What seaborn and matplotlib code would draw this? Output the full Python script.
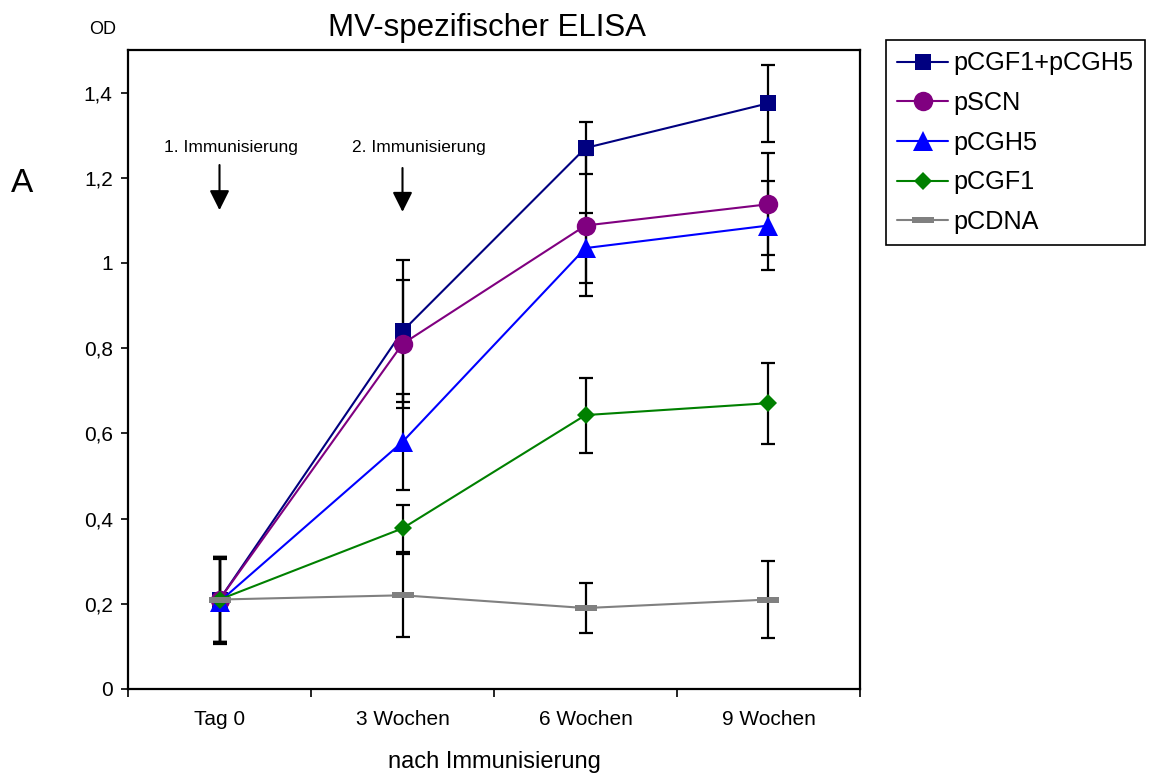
import numpy as np
import matplotlib
matplotlib.use("Agg")
import matplotlib.pyplot as plt
import seaborn as sns

# Sampling times and groups
timepoints = ["Tag 0", "3 Wochen", "6 Wochen", "9 Wochen"]
series_names = ["pCGF1+pCGH5", "pSCN", "pCGH5", "pCGF1", "pCDNA"]

# Mean OD values and standard deviations per group
od_pcgf1_pcgh5 = [0.21, 0.84, 1.27, 1.375]
sd_pcgf1_pcgh5 = [0.10, 0.167, 0.06, 0.09]
od_pscn = [0.21, 0.81, 1.088, 1.138]
sd_pscn = [0.10, 0.15, 0.165, 0.12]
od_pcgh5 = [0.205, 0.58, 1.035, 1.088]
sd_pcgh5 = [0.10, 0.113, 0.083, 0.104]
od_pcgf1 = [0.21, 0.377, 0.643, 0.671]
sd_pcgf1 = [0.10, 0.055, 0.088, 0.095]
od_pcdna = [0.21, 0.22, 0.19, 0.21]
sd_pcdna = [0.10, 0.097, 0.059, 0.09]

y_ticks = [0, 0.2, 0.4, 0.6, 0.8, 1, 1.2, 1.4]
y_ticklabels = ["0", "0,2", "0,4", "0,6", "0,8", "1", "1,2", "1,4"]

sns.set_style("white")
plt.rcParams["font.family"] = ["Liberation Sans", "DejaVu Sans"]
plt.rcParams["text.color"] = "black"
plt.rcParams["axes.labelcolor"] = "black"
plt.rcParams["xtick.color"] = "black"
plt.rcParams["ytick.color"] = "black"

fig = plt.figure(figsize=(11.52, 7.76), dpi=100)
ax = fig.add_axes([128 / 1152, 1 - 689 / 776, (860 - 128) / 1152, (689 - 50) / 776])

dash_marker = [(-1, -0.3), (1, -0.3), (1, 0.3), (-1, 0.3), (-1, -0.3)]
styles = {
    "pCGF1+pCGH5": dict(color="#000080", marker="s", ms=11),
    "pSCN": dict(color="#800080", marker="o", ms=14),
    "pCGH5": dict(color="#0000FF", marker="^", ms=14),
    "pCGF1": dict(color="#008000", marker="D", ms=9.5),
    "pCDNA": dict(color="#808080", marker=dash_marker, ms=16),
}
values = {
    "pCGF1+pCGH5": (od_pcgf1_pcgh5, sd_pcgf1_pcgh5),
    "pSCN": (od_pscn, sd_pscn),
    "pCGH5": (od_pcgh5, sd_pcgh5),
    "pCGF1": (od_pcgf1, sd_pcgf1),
    "pCDNA": (od_pcdna, sd_pcdna),
}

x = np.arange(len(timepoints))
for i, name in enumerate(series_names):
    od, sd = values[name]
    st = styles[name]
    ax.errorbar(x, od, yerr=sd, fmt="none", ecolor="black", elinewidth=1.6,
                capsize=4.8, capthick=1.6, zorder=1.5)
    sns.lineplot(x=x, y=od, ax=ax, color=st["color"], marker=st["marker"],
                 markersize=st["ms"], markeredgewidth=0, linewidth=1.5,
                 label=name, errorbar=None, zorder=2 + i * 0.1)

ax.set_xlim(-0.5, len(timepoints) - 0.5)
ax.set_ylim(0, 1.5)
ax.set_xticks(x)
ax.set_xticklabels(timepoints, fontsize=15)
ax.set_xticks(np.arange(-0.5, len(timepoints)), minor=True)
ax.tick_params(axis="x", which="major", length=0, pad=15)
ax.tick_params(axis="x", which="minor", length=6, width=1.2, color="black",
               direction="out", bottom=True)
ax.set_yticks(y_ticks)
ax.set_yticklabels(y_ticklabels, fontsize=15)
ax.tick_params(axis="y", length=5, width=1.2, color="black", direction="out",
               left=True, pad=6)
for sp in ax.spines.values():
    sp.set_color("black")
    sp.set_linewidth(1.6)

ax.set_xlabel("nach Immunisierung", fontsize=17, labelpad=16)
ax.set_ylabel("")

fig.text(487 / 1152, 1 - 28 / 776, "MV-spezifischer ELISA", fontsize=22.5,
         ha="center", va="center")
fig.text(103 / 1152, 1 - 30 / 776, "OD", fontsize=13, ha="center", va="center")
fig.text(22 / 1152, 1 - 183 / 776, "A", fontsize=24, ha="center", va="center")

# Immunisation time markers
arrow_kw = dict(arrowstyle="-|>,head_length=0.6,head_width=0.3", color="black",
                lw=1.5, mutation_scale=20, shrinkA=0, shrinkB=0)
ax.annotate("", xy=(0, 1.124), xytext=(0, 1.23), arrowprops=arrow_kw)
ax.annotate("", xy=(1, 1.12), xytext=(1, 1.223), arrowprops=arrow_kw)
ax.text(0.06, 1.27, "1. Immunisierung", fontsize=12.5, ha="center", va="center")
ax.text(1.09, 1.27, "2. Immunisierung", fontsize=12.5, ha="center", va="center")

handles, labels = ax.get_legend_handles_labels()
if ax.get_legend() is not None:
    ax.get_legend().remove()
leg = fig.legend(handles, labels, loc="upper left",
                 bbox_to_anchor=(886 / 1152, 1 - 40 / 776),
                 bbox_transform=fig.transFigure, fontsize=18.2, frameon=True,
                 fancybox=False, edgecolor="black", framealpha=1,
                 handlelength=2.0, handletextpad=0.22, labelspacing=0.62,
                 borderpad=0.45, borderaxespad=0)
leg.get_frame().set_linewidth(1.2)

fig.savefig("out.png", dpi=100)
